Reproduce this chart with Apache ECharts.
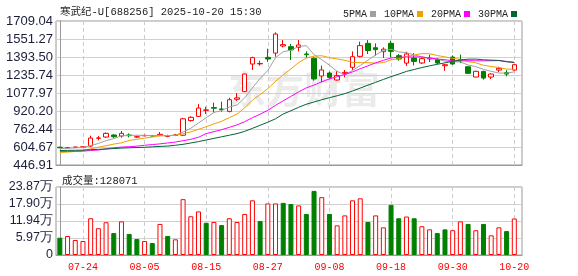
<!DOCTYPE html>
<html><head><meta charset="utf-8">
<script src="https://cdn.jsdelivr.net/npm/echarts@6/dist/echarts.min.js"></script>
<style>html,body{margin:0;padding:0;background:#fff}#c{width:578px;height:276px}</style>
</head><body><div id="c"></div>
<script>
const titleText = '寒武纪-U[688256] 2025-10-20 15:30';
const dates = ['07-21','07-22','07-23','07-24','07-25','07-28','07-29','07-30','07-31','08-01','08-04','08-05','08-06','08-07','08-08','08-11','08-12','08-13','08-14','08-15','08-18','08-19','08-20','08-21','08-22','08-25','08-26','08-27','08-28','08-29','09-01','09-02','09-03','09-04','09-05','09-08','09-09','09-10','09-11','09-12','09-15','09-16','09-17','09-18','09-19','09-22','09-23','09-24','09-25','09-26','09-29','09-30','10-09','10-10','10-13','10-14','10-15','10-16','10-17','10-20'];
// open, close, low, high
const ohlc = [
[603,598,594,606],[597,600,594,604],[602,604,600,606],[603,606,598,609],[613,683,605,704],
[681,684,663,701],[692,724,684,733],[710,695,684,716],[701,724,686,745],[710,704,689,724],
[692,694,686,704],[703,707,700,712],[705,700,696,707],[707,716,700,736],[698,701,690,712],
[706,711,700,720],[708,852,700,860],[836,865,827,874],[873,946,870,981],[926,930,894,958],
[950,945,908,993],[938,933,914,1002],[917,1019,908,1037],[1023,1035,1008,1078],[1090,1244,1085,1247],
[1332,1388,1280,1396],[1333,1337,1318,1361],[1390,1376,1350,1466],[1428,1595,1396,1610],[1490,1502,1478,1542],
[1484,1455,1367,1507],[1478,1499,1443,1542],[1420,1414,1385,1443],[1382,1201,1186,1391],[1227,1280,1171,1318],
[1253,1215,1201,1265],[1192,1230,1186,1268],[1250,1259,1215,1280],[1303,1396,1280,1443],[1399,1493,1391,1528],
[1513,1450,1420,1542],[1475,1458,1405,1513],[1440,1462,1385,1478],[1513,1443,1391,1537],[1405,1376,1361,1420],
[1340,1420,1315,1440],[1384,1355,1320,1428],[1341,1379,1332,1390],[1376,1384,1349,1414],[1370,1341,1332,1384],
[1317,1326,1273,1332],[1393,1332,1326,1408],[1372,1368,1340,1414],[1308,1250,1247,1311],[1218,1268,1215,1273],
[1267,1209,1195,1273],[1218,1244,1200,1250],[1279,1294,1262,1308],[1256,1244,1224,1279],[1279,1326,1273,1332]
];
const volumes = [60700,66700,52700,49000,129000,94000,115000,77000,118000,74000,
56000,49000,42000,109000,67000,55000,196000,136000,153000,113000,
116000,105000,129000,116000,144000,192000,119000,181000,181000,183000,
179000,174000,144000,225000,203000,144000,104000,139000,192000,199000,
116000,139000,97000,176000,129000,135000,129000,101000,90000,77000,
90000,87000,118000,109000,87000,109000,69000,97000,84000,128071];
const ma5Head = [590,594,597,600];
const ma10Head = [557,560,566,575,588,603,616,630,642];
const ma20Head = [566,566,567,568,574,578,588,598,604,607,612,620,626,632,640,648,660,672,690];
const ma30Head = [574,575,576,577,581,584,587,591,595,598,600,602,606,610,613,620,628,640,652,666,680,694,708,722,742,768,795,822,852];
const priceTicks = [446.91,604.67,762.44,920.20,1077.97,1235.74,1393.50,1551.27,1709.04];
const volTicks = [0,59675,119350,179025,238700];
const dateTickIdx = [3,11,19,27,35,43,51,59];

const closes = ohlc.map(d => d[1]);
function ma(n, head) {
  return closes.map((c, i) => {
    if (i < head.length) return [i, head[i]];
    let s = 0; for (let k = i - n + 1; k <= i; k++) s += closes[k];
    return [i, +(s / n).toFixed(2)];
  });
}
const UP = '#ff0000', DOWN = '#008000';
const candleData = ohlc.map((d, i) => [i, d[0], d[1], d[2], d[3]]);
const volData = volumes.map((v, i) => {
  const ref = i === 0 ? ohlc[0][0] : closes[i - 1];
  const up = closes[i] >= ref;
  return { value: [i, v], itemStyle: up ? { color: '#fff', borderColor: UP, borderWidth: 1 } : { color: DOWN, borderColor: DOWN, borderWidth: 1 } };
});
const numFont = "'Liberation Sans', Arial, sans-serif";
const monoFont = "'Liberation Mono', 'Noto Sans CJK SC', monospace";
const labColor = '#1b1f3b';

const chart = echarts.init(document.getElementById('c'), null, { renderer: 'canvas' });
chart.setOption({
  animation: false,
  backgroundColor: '#fff',
  title: [
    { text: titleText, left: 55, top: 2, textStyle: { fontSize: 10.5, fontWeight: 'normal', color: '#222', fontFamily: monoFont } },
    { text: '成交量:' + volumes[volumes.length - 1], left: 57, top: 171, textStyle: { fontSize: 10.5, fontWeight: 'normal', color: '#222', fontFamily: monoFont } }
  ],
  legend: {
    left: 338, top: 4, align: 'right', itemWidth: 6, itemHeight: 6, itemGap: 8, icon: 'rect',
    textStyle: { fontSize: 10, fontFamily: monoFont, color: '#222', padding: [0, -2, 0, 0] },
    data: ['5PMA', '10PMA', '20PMA', '30PMA']
  },
  graphic: [{
    type: 'text', left: 228, top: 70, z: 0, silent: true,
    style: { text: '东方财富', font: "bold 38px 'Noto Sans CJK SC'", fill: 'rgba(0,0,0,0.08)' }
  }],
  grid: [
    { left: 56, right: 56, top: 21, height: 144, show: true, borderColor: '#999', borderWidth: 1 },
    { left: 56, right: 56, top: 187, height: 68, show: true, borderColor: '#999', borderWidth: 1 }
  ],
  xAxis: [
    { type: 'value', gridIndex: 0, min: -0.5, max: 60,
      axisLine: { lineStyle: { color: '#999' } }, axisTick: { show: false, customValues: dateTickIdx },
      axisLabel: { show: false, customValues: dateTickIdx },
      splitLine: { show: true, lineStyle: { color: '#ccc', type: [4, 3] } } },
    { type: 'value', gridIndex: 1, min: -0.5, max: 60,
      axisLine: { lineStyle: { color: '#999' } }, axisTick: { show: false, customValues: dateTickIdx },
      axisLabel: { show: true, customValues: dateTickIdx, formatter: v => dates[Math.round(v)], color: '#ff0000', fontSize: 10, fontFamily: monoFont, margin: 7 },
      splitLine: { show: true, lineStyle: { color: '#ccc', type: [4, 3] } } }
  ],
  yAxis: [
    { type: 'value', gridIndex: 0, min: priceTicks[0], max: priceTicks[priceTicks.length - 1],
      axisLine: { show: true, lineStyle: { color: '#999' } }, axisTick: { show: false, customValues: priceTicks },
      axisLabel: { customValues: priceTicks, formatter: v => v.toFixed(2), color: labColor, fontSize: 13, fontFamily: numFont, margin: 3 },
      splitLine: { show: true, lineStyle: { color: '#d0d0d0' } } },
    { type: 'value', gridIndex: 1, min: 0, max: volTicks[volTicks.length - 1],
      axisLine: { show: true, lineStyle: { color: '#999' } }, axisTick: { show: false, customValues: volTicks },
      axisLabel: { customValues: volTicks, formatter: v => v === 0 ? '0' : (v / 10000).toFixed(2) + '万', color: labColor, fontSize: 12.5, fontFamily: numFont, margin: 3 },
      splitLine: { show: true, lineStyle: { color: '#d0d0d0' } } }
  ],
  series: [
    { type: 'candlestick', name: 'K', xAxisIndex: 0, yAxisIndex: 0, data: candleData, barWidth: 5,
      itemStyle: { color: '#fff', color0: DOWN, borderColor: UP, borderColor0: DOWN, borderWidth: 1 } },
    { type: 'line', name: '5PMA', data: ma(5, ma5Head), showSymbol: false, symbol: 'none', lineStyle: { width: 1, color: '#a0a0a0' }, itemStyle: { color: '#a0a0a0' } },
    { type: 'line', name: '10PMA', data: ma(10, ma10Head), showSymbol: false, symbol: 'none', lineStyle: { width: 1, color: '#f0a000' }, itemStyle: { color: '#f0a000' } },
    { type: 'line', name: '20PMA', data: ma(20, ma20Head), showSymbol: false, symbol: 'none', lineStyle: { width: 1, color: '#ff00ff' }, itemStyle: { color: '#ff00ff' } },
    { type: 'line', name: '30PMA', data: ma(30, ma30Head), showSymbol: false, symbol: 'none', lineStyle: { width: 1, color: '#006633' }, itemStyle: { color: '#006633' } },
    { type: 'bar', name: 'VOL', xAxisIndex: 1, yAxisIndex: 1, data: volData, barWidth: 5 }
  ]
});
</script></body></html>
